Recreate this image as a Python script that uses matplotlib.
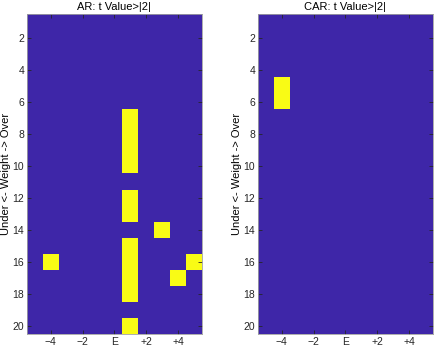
import numpy as np
import matplotlib
matplotlib.use("Agg")
import matplotlib.pyplot as plt
from matplotlib.colors import ListedColormap

plt.rcParams['font.family'] = ['Liberation Sans', 'DejaVu Sans']

# weight rows 1..20, event columns -5..+5 (E = 0)
rows = np.arange(1, 21)
cols = np.arange(-5, 6)

# cells where t value > |2|  (row, column)
ar_rows = [7, 8, 9, 10, 12, 13, 15, 16, 17, 18, 20, 14, 16, 17, 16]
ar_cols = [1, 1, 1, 1, 1, 1, 1, 1, 1, 1, 1, 3, 5, 4, -4]
car_rows = [5, 6]
car_cols = [-4, -4]

xtick_vals = [-4, -2, 0, 2, 4]
xtick_labels = ['\u22124', '\u22122', 'E', '+2', '+4']
ytick_vals = [2, 4, 6, 8, 10, 12, 14, 16, 18, 20]

titles = ['AR: t Value>|2|', 'CAR: t Value>|2|']

parula2 = ListedColormap(['#3E26A8', '#F9FB15'])


def make_grid(r_list, c_list):
    g = np.zeros((len(rows), len(cols)))
    for r, c in zip(r_list, c_list):
        g[r - 1, c + 5] = 1
    return g


grids = [make_grid(ar_rows, ar_cols), make_grid(car_rows, car_cols)]

fig = plt.figure(figsize=(4.35, 3.48), dpi=100)
lefts = [0.062, 0.593]

for k in range(2):
    ax = fig.add_axes([lefts[k], 0.040, 0.402, 0.92])
    ax.imshow(grids[k], cmap=parula2, vmin=0, vmax=1, aspect='auto',
              interpolation='nearest',
              extent=[cols[0] - 0.5, cols[-1] + 0.5, rows[-1] + 0.5, rows[0] - 0.5])
    ax.set_xticks(xtick_vals)
    ax.set_xticklabels(xtick_labels)
    ax.set_yticks(ytick_vals)
    ax.tick_params(direction='in', top=True, right=True, labelsize=7.5,
                   length=3, width=0.6, color='#262626', pad=2)
    ax.tick_params(axis='both', labelcolor='#262626')
    for s in ax.spines.values():
        s.set_color('#a0a0a0')
        s.set_linewidth(0.6)
    ax.set_title(titles[k], fontsize=8, pad=3)
    ax.set_ylabel('Under <- Weight -> Over', fontsize=8, labelpad=1)

fig.savefig('out.png', dpi=100)
